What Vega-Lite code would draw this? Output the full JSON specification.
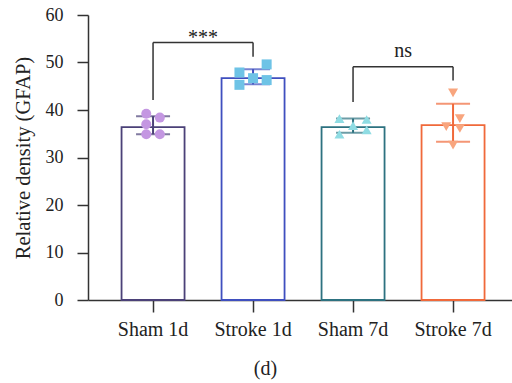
{
  "$schema": "https://vega.github.io/schema/vega-lite/v6.json",
  "width": 424,
  "height": 285,
  "autosize": {"type": "none"},
  "padding": {"left": 88, "top": 15, "right": 0, "bottom": 83},
  "background": "white",
  "config": {
    "view": {"stroke": null},
    "font": "Liberation Serif",
    "axis": {"domainColor": "#333", "tickColor": "#333", "domainWidth": 1.5, "tickWidth": 1.5, "labelColor": "#222", "titleColor": "#222", "labelFont": "Liberation Serif", "titleFont": "Liberation Serif", "grid": false}
  },
  "datasets": {
    "bars": [
      {"group": "Sham 1d", "mean": 36.4, "lo": 34.9, "hi": 38.7},
      {"group": "Stroke 1d", "mean": 46.7, "lo": 45.4, "hi": 48.6},
      {"group": "Sham 7d", "mean": 36.4, "lo": 35.2, "hi": 38.2},
      {"group": "Stroke 7d", "mean": 36.8, "lo": 33.3, "hi": 41.3}
    ],
    "points": [
      {"group": "Sham 1d", "slot": "left", "value": 39.2},
      {"group": "Sham 1d", "slot": "right", "value": 38.4},
      {"group": "Sham 1d", "slot": "left", "value": 37.0},
      {"group": "Sham 1d", "slot": "left", "value": 34.9},
      {"group": "Sham 1d", "slot": "right", "value": 34.9},
      {"group": "Stroke 1d", "slot": "far right", "value": 49.6},
      {"group": "Stroke 1d", "slot": "far left", "value": 47.9},
      {"group": "Stroke 1d", "slot": "center", "value": 46.7},
      {"group": "Stroke 1d", "slot": "far right", "value": 46.3},
      {"group": "Stroke 1d", "slot": "far left", "value": 45.3},
      {"group": "Sham 7d", "slot": "far left", "value": 38.2},
      {"group": "Sham 7d", "slot": "far right", "value": 38.0},
      {"group": "Sham 7d", "slot": "center", "value": 36.7},
      {"group": "Sham 7d", "slot": "far left", "value": 34.9},
      {"group": "Sham 7d", "slot": "far right", "value": 35.8},
      {"group": "Stroke 7d", "slot": "center", "value": 43.6},
      {"group": "Stroke 7d", "slot": "right", "value": 38.2},
      {"group": "Stroke 7d", "slot": "left", "value": 36.5},
      {"group": "Stroke 7d", "slot": "right", "value": 36.1},
      {"group": "Stroke 7d", "slot": "center", "value": 32.6}
    ],
    "brackets": [
      {"from": "Sham 1d", "to": "Stroke 1d", "top": 54.2, "leftEnd": 42.1, "rightEnd": 51.2, "label": "***"},
      {"from": "Sham 7d", "to": "Stroke 7d", "top": 49.1, "leftEnd": 41.7, "rightEnd": 46.2, "label": "ns"}
    ]
  },
  "resolve": {"scale": {"xOffset": "independent"}},
  "layer": [
    {
      "data": {"name": "bars"},
      "mark": {"type": "bar", "fill": "white", "strokeWidth": 1.8},
      "encoding": {
        "x": {"field": "group", "type": "nominal"},
        "y": {"field": "mean", "type": "quantitative"},
        "stroke": {"field": "group", "type": "nominal", "scale": {"domain": ["Sham 1d", "Stroke 1d", "Sham 7d", "Stroke 7d"], "range": ["#4B4178", "#3F4FBF", "#2D7280", "#F0693A"]}, "legend": null}
      }
    },
    {
      "data": {"name": "bars"},
      "mark": {"type": "rule", "strokeWidth": 2},
      "encoding": {
        "x": {"field": "group", "type": "nominal"},
        "y": {"field": "lo", "type": "quantitative"},
        "y2": {"field": "hi"},
        "stroke": {"field": "group", "type": "nominal", "legend": null}
      }
    },
    {
      "data": {"name": "bars"},
      "mark": {"type": "tick", "size": 34, "thickness": 2, "orient": "horizontal"},
      "encoding": {
        "x": {"field": "group", "type": "nominal"},
        "y": {"field": "lo", "type": "quantitative"},
        "color": {"field": "group", "type": "nominal", "scale": {"domain": ["Sham 1d", "Stroke 1d", "Sham 7d", "Stroke 7d"], "range": ["#4B4178", "#3F4FBF", "#2D7280", "#F0693A"]}, "legend": null}
      }
    },
    {
      "data": {"name": "bars"},
      "mark": {"type": "tick", "size": 34, "thickness": 2, "orient": "horizontal"},
      "encoding": {
        "x": {"field": "group", "type": "nominal"},
        "y": {"field": "hi", "type": "quantitative"},
        "color": {"field": "group", "type": "nominal", "legend": null}
      }
    },
    {
      "data": {"name": "points"},
      "mark": {"type": "point", "filled": true, "opacity": 1},
      "encoding": {
        "x": {"field": "group", "type": "nominal"},
        "xOffset": {"field": "slot", "type": "nominal", "scale": {"type": "point", "domain": ["far left", "left", "center", "right", "far right"], "range": [14.5, 48.5]}},
        "y": {"field": "value", "type": "quantitative"},
        "size": {"field": "group", "type": "nominal", "scale": {"domain": ["Sham 1d", "Stroke 1d", "Sham 7d", "Stroke 7d"], "range": [100, 100, 135, 135]}, "legend": null},
        "fill": {"field": "group", "type": "nominal", "scale": {"domain": ["Sham 1d", "Stroke 1d", "Sham 7d", "Stroke 7d"], "range": ["#C497E2", "#6EC3E6", "#8FDCE3", "#F8A57E"]}, "legend": null},
        "shape": {"field": "group", "type": "nominal", "scale": {"domain": ["Sham 1d", "Stroke 1d", "Sham 7d", "Stroke 7d"], "range": ["circle", "square", "triangle-up", "triangle-down"]}, "legend": null}
      }
    },
    {
      "data": {"name": "brackets"},
      "mark": {"type": "rule", "color": "#333", "strokeWidth": 1.5},
      "encoding": {
        "x": {"field": "from", "type": "nominal", "bandPosition": 0.5},
        "x2": {"field": "to", "bandPosition": 0.5},
        "y": {"field": "top", "type": "quantitative"}
      }
    },
    {
      "data": {"name": "brackets"},
      "mark": {"type": "rule", "color": "#333", "strokeWidth": 1.5},
      "encoding": {
        "x": {"field": "from", "type": "nominal"},
        "y": {"field": "leftEnd", "type": "quantitative"},
        "y2": {"field": "top"}
      }
    },
    {
      "data": {"name": "brackets"},
      "mark": {"type": "rule", "color": "#333", "strokeWidth": 1.5},
      "encoding": {
        "x": {"field": "to", "type": "nominal"},
        "y": {"field": "rightEnd", "type": "quantitative"},
        "y2": {"field": "top"}
      }
    },
    {
      "data": {"name": "brackets"},
      "transform": [{"filter": "datum.label === '***'"}],
      "mark": {"type": "text", "dx": 50, "dy": 1, "baseline": "alphabetic", "fontSize": 20, "color": "#222", "font": "Liberation Serif"},
      "encoding": {
        "x": {"field": "from", "type": "nominal"},
        "y": {"field": "top", "type": "quantitative"},
        "text": {"field": "label"}
      }
    },
    {
      "data": {"name": "brackets"},
      "transform": [{"filter": "datum.label === 'ns'"}],
      "mark": {"type": "text", "dx": 50, "dy": -10, "baseline": "alphabetic", "fontSize": 20, "color": "#222", "font": "Liberation Serif"},
      "encoding": {
        "x": {"field": "from", "type": "nominal"},
        "y": {"field": "top", "type": "quantitative"},
        "text": {"field": "label"}
      }
    }
  ],
  "encoding": {
    "x": {
      "field": "group", "type": "nominal",
      "scale": {"domain": ["Sham 1d", "Stroke 1d", "Sham 7d", "Stroke 7d"], "paddingInner": 0.37, "paddingOuter": 0.305, "align": 0.55},
      "axis": {"title": "(d)", "labelAngle": 0, "labelFontSize": 20, "tickSize": 12, "labelPadding": 7, "titleFontSize": 20, "titleFontWeight": "normal", "titleX": 177, "titleY": 68, "titleBaseline": "middle", "titleAnchor": "middle"}
    },
    "y": {
      "type": "quantitative",
      "scale": {"domain": [0, 60], "nice": false},
      "axis": {"title": "Relative density (GFAP)", "values": [0, 10, 20, 30, 40, 50, 60], "labelFontSize": 18, "tickSize": 11, "labelPadding": 14, "titleFontSize": 20.5, "titleFontWeight": "normal", "titlePadding": 12}
    }
  }
}
